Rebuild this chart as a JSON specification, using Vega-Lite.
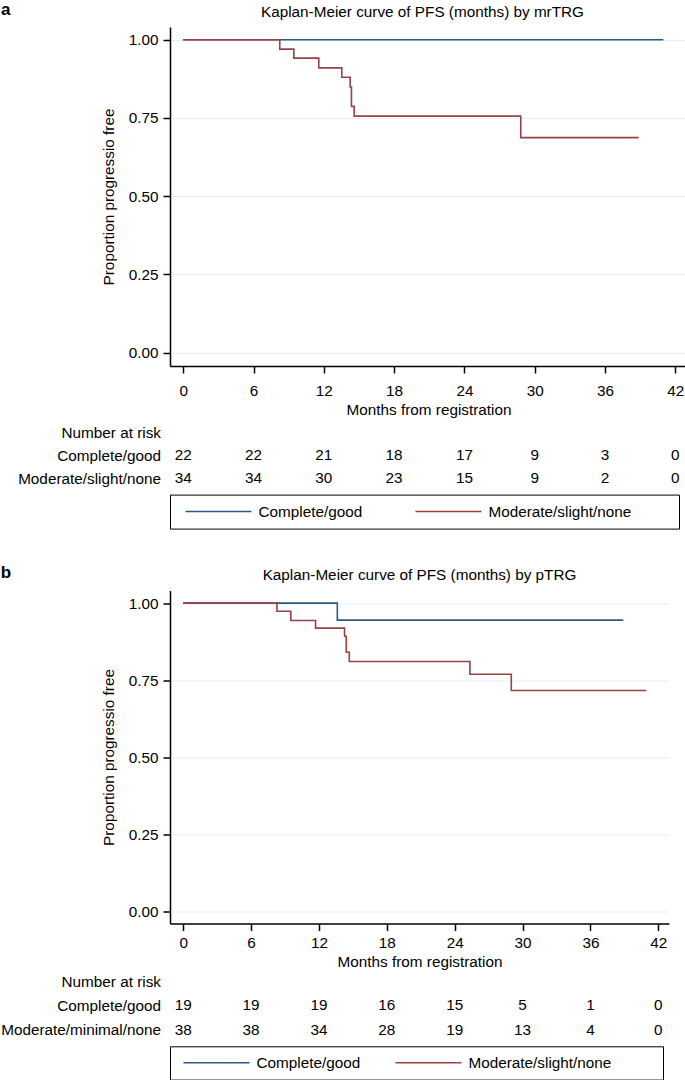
{
  "$schema": "https://vega.github.io/schema/vega-lite/v6.json",
  "background": "white",
  "padding": {"left": 0, "top": 0, "right": 0, "bottom": 0},
  "config": {
    "font": "Liberation Sans",
    "view": {"stroke": null},
    "axis": {
      "labelFontSize": 15.3, "titleFontSize": 15.3, "titleFontWeight": "normal",
      "labelColor": "black", "titleColor": "black", "domainColor": "black", "tickColor": "black",
      "tickSize": 7, "domainWidth": 1.5, "tickWidth": 1.5
    },
    "axisX": {"grid": false, "labelPadding": 8, "titlePadding": 4},
    "axisY": {"grid": true, "gridColor": "#e6eef1", "gridWidth": 1.2, "labelPadding": 5, "titlePadding": 12},
    "title": {"color": "black", "font": "Liberation Sans"},
    "legend": {"labelFont": "Liberation Sans"}
  },
  "datasets": {
    "kmA": [
      {"series": "Complete/good", "month": 0, "surv": 1},
      {"series": "Complete/good", "month": 40.98, "surv": 1},
      {"series": "Moderate/slight/none", "month": 0, "surv": 1},
      {"series": "Moderate/slight/none", "month": 8.24, "surv": 0.970},
      {"series": "Moderate/slight/none", "month": 9.44, "surv": 0.941},
      {"series": "Moderate/slight/none", "month": 11.57, "surv": 0.910},
      {"series": "Moderate/slight/none", "month": 13.53, "surv": 0.880},
      {"series": "Moderate/slight/none", "month": 14.25, "surv": 0.849},
      {"series": "Moderate/slight/none", "month": 14.36, "surv": 0.787},
      {"series": "Moderate/slight/none", "month": 14.59, "surv": 0.756},
      {"series": "Moderate/slight/none", "month": 28.81, "surv": 0.687},
      {"series": "Moderate/slight/none", "month": 38.87, "surv": 0.687}
    ],
    "kmB": [
      {"series": "Complete/good", "month": 0, "surv": 1},
      {"series": "Complete/good", "month": 13.62, "surv": 0.945},
      {"series": "Complete/good", "month": 38.9, "surv": 0.945},
      {"series": "Moderate/slight/none", "month": 0, "surv": 1},
      {"series": "Moderate/slight/none", "month": 8.28, "surv": 0.974},
      {"series": "Moderate/slight/none", "month": 9.51, "surv": 0.944},
      {"series": "Moderate/slight/none", "month": 11.70, "surv": 0.919},
      {"series": "Moderate/slight/none", "month": 14.26, "surv": 0.893},
      {"series": "Moderate/slight/none", "month": 14.41, "surv": 0.841},
      {"series": "Moderate/slight/none", "month": 14.68, "surv": 0.811},
      {"series": "Moderate/slight/none", "month": 25.34, "surv": 0.770},
      {"series": "Moderate/slight/none", "month": 29.0, "surv": 0.717},
      {"series": "Moderate/slight/none", "month": 40.94, "surv": 0.717}
    ],
    "riskA": [
      {"row": "Complete/good", "month": 0, "n": 22},
      {"row": "Complete/good", "month": 6, "n": 22},
      {"row": "Complete/good", "month": 12, "n": 21},
      {"row": "Complete/good", "month": 18, "n": 18},
      {"row": "Complete/good", "month": 24, "n": 17},
      {"row": "Complete/good", "month": 30, "n": 9},
      {"row": "Complete/good", "month": 36, "n": 3},
      {"row": "Complete/good", "month": 42, "n": 0},
      {"row": "Moderate/slight/none", "month": 0, "n": 34},
      {"row": "Moderate/slight/none", "month": 6, "n": 34},
      {"row": "Moderate/slight/none", "month": 12, "n": 30},
      {"row": "Moderate/slight/none", "month": 18, "n": 23},
      {"row": "Moderate/slight/none", "month": 24, "n": 15},
      {"row": "Moderate/slight/none", "month": 30, "n": 9},
      {"row": "Moderate/slight/none", "month": 36, "n": 2},
      {"row": "Moderate/slight/none", "month": 42, "n": 0}
    ],
    "riskB": [
      {"row": "Complete/good", "month": 0, "n": 19},
      {"row": "Complete/good", "month": 6, "n": 19},
      {"row": "Complete/good", "month": 12, "n": 19},
      {"row": "Complete/good", "month": 18, "n": 16},
      {"row": "Complete/good", "month": 24, "n": 15},
      {"row": "Complete/good", "month": 30, "n": 5},
      {"row": "Complete/good", "month": 36, "n": 1},
      {"row": "Complete/good", "month": 42, "n": 0},
      {"row": "Moderate/minimal/none", "month": 0, "n": 38},
      {"row": "Moderate/minimal/none", "month": 6, "n": 38},
      {"row": "Moderate/minimal/none", "month": 12, "n": 34},
      {"row": "Moderate/minimal/none", "month": 18, "n": 28},
      {"row": "Moderate/minimal/none", "month": 24, "n": 19},
      {"row": "Moderate/minimal/none", "month": 30, "n": 13},
      {"row": "Moderate/minimal/none", "month": 36, "n": 4},
      {"row": "Moderate/minimal/none", "month": 42, "n": 0}
    ]
  },
  "spacing": 33.5,
  "resolve": {"scale": {"color": "independent"}, "legend": {"color": "independent"}},
  "vconcat": [
    {
      "title": {"text": "a", "anchor": "start", "frame": "bounds", "fontSize": 17, "fontWeight": "bold", "offset": -14},
      "spacing": 18.3,
      "bounds": "flush",
      "resolve": {"scale": {"color": "independent"}, "legend": {"color": "independent"}},
      "vconcat": [
        {
          "width": 517, "height": 339,
          "title": {"text": "Kaplan-Meier curve of PFS (months) by mrTRG", "fontSize": 15.3, "fontWeight": "normal", "dx": -6, "offset": 7},
          "data": {"name": "kmA"},
          "mark": {"type": "line", "interpolate": "step-after", "strokeWidth": 1.6},
          "encoding": {
            "x": {"field": "month", "type": "quantitative",
                  "scale": {"domain": [-1.13, 43.0], "nice": false, "zero": false},
                  "axis": {"values": [0, 6, 12, 18, 24, 30, 36, 42], "title": "Months from registration", "labelPadding": 10.2, "titlePadding": 4}},
            "y": {"field": "surv", "type": "quantitative",
                  "scale": {"domain": [-0.0425, 1.0406], "nice": false, "zero": false},
                  "axis": {"values": [0, 0.25, 0.5, 0.75, 1], "format": ".2f", "title": "Proportion progressio free"}},
            "color": {"field": "series", "type": "nominal",
                      "scale": {"domain": ["Complete/good", "Moderate/slight/none"], "range": ["#2b5b88", "#9c3f47"]},
                      "legend": null}
          }
        },
        {
          "width": 517, "height": 91.4,
          "data": {"name": "riskA"},
          "mark": {"type": "text", "fontSize": 15.3, "color": "black", "dy": 2.3},
          "encoding": {
            "x": {"field": "month", "type": "quantitative",
                  "scale": {"domain": [-1.13, 43.0], "nice": false, "zero": false}, "axis": null},
            "y": {"field": "row", "type": "nominal",
                  "scale": {"type": "point", "padding": 1, "align": 1, "domain": ["Number at risk", "Complete/good", "Moderate/slight/none"]},
                  "axis": {"title": null, "domain": false, "ticks": false, "grid": false, "labelPadding": 9.5, "labelOffset": 2.3, "labelFontSize": 15.3, "labelLimit": 300, "minExtent": 169}},
            "text": {"field": "n", "type": "quantitative"}
          }
        },
        {
          "width": 509, "height": 34,
          "view": {"stroke": "black", "strokeWidth": 1},
          "data": {"name": "kmA"},
          "mark": {"type": "point", "opacity": 0},
          "encoding": {
            "color": {"field": "series", "type": "nominal",
                      "scale": {"domain": ["Complete/good", "Moderate/slight/none"], "range": ["#2b5b88", "#9c3f47"]},
                      "legend": {"orient": "none", "legendX": 14.5, "legendY": 7, "direction": "horizontal", "columns": 2,
                                 "title": null, "symbolType": "stroke", "symbolSize": 4356, "symbolStrokeWidth": 1.5,
                                 "symbolOpacity": 1, "clipHeight": 20, "labelFontSize": 15.3, "labelOffset": 6,
                                 "columnPadding": 52, "labelColor": "black", "padding": 0, "labelLimit": 300}}
          }
        }
      ]
    },
    {
      "title": {"text": "b", "anchor": "start", "frame": "bounds", "fontSize": 17, "fontWeight": "bold", "offset": -14},
      "spacing": 12.9,
      "bounds": "flush",
      "resolve": {"scale": {"color": "independent"}, "legend": {"color": "independent"}},
      "vconcat": [
        {
          "width": 499, "height": 333,
          "title": {"text": "Kaplan-Meier curve of PFS (months) by pTRG", "fontSize": 15.3, "fontWeight": "normal", "offset": 7},
          "data": {"name": "kmB"},
          "mark": {"type": "line", "interpolate": "step-after", "strokeWidth": 1.6},
          "encoding": {
            "x": {"field": "month", "type": "quantitative",
                  "scale": {"domain": [-1.17, 42.94], "nice": false, "zero": false},
                  "axis": {"values": [0, 6, 12, 18, 24, 30, 36, 42], "title": "Months from registration", "labelPadding": 4.9, "titlePadding": 4}},
            "y": {"field": "surv", "type": "quantitative",
                  "scale": {"domain": [-0.0375, 1.041], "nice": false, "zero": false},
                  "axis": {"values": [0, 0.25, 0.5, 0.75, 1], "format": ".2f", "title": "Proportion progressio free"}},
            "color": {"field": "series", "type": "nominal",
                      "scale": {"domain": ["Complete/good", "Moderate/slight/none"], "range": ["#2b5b88", "#9c3f47"]},
                      "legend": null}
          }
        },
        {
          "width": 499, "height": 96.6,
          "data": {"name": "riskB"},
          "mark": {"type": "text", "fontSize": 15.3, "color": "black"},
          "encoding": {
            "x": {"field": "month", "type": "quantitative",
                  "scale": {"domain": [-1.17, 42.94], "nice": false, "zero": false}, "axis": null},
            "y": {"field": "row", "type": "nominal",
                  "scale": {"type": "point", "padding": 1, "align": 0.928, "domain": ["Number at risk", "Complete/good", "Moderate/minimal/none"]},
                  "axis": {"title": null, "domain": false, "ticks": false, "grid": false, "labelPadding": 9.5, "labelFontSize": 15.3, "labelLimit": 300, "minExtent": 169}},
            "text": {"field": "n", "type": "quantitative"}
          }
        },
        {
          "width": 493, "height": 33.3,
          "view": {"stroke": "black", "strokeWidth": 1},
          "data": {"name": "kmB"},
          "mark": {"type": "point", "opacity": 0},
          "encoding": {
            "color": {"field": "series", "type": "nominal",
                      "scale": {"domain": ["Complete/good", "Moderate/slight/none"], "range": ["#2b5b88", "#9c3f47"]},
                      "legend": {"orient": "none", "legendX": 12.5, "legendY": 6.5, "direction": "horizontal", "columns": 2,
                                 "title": null, "symbolType": "stroke", "symbolSize": 4356, "symbolStrokeWidth": 1.5,
                                 "symbolOpacity": 1, "clipHeight": 20, "labelFontSize": 15.3, "labelOffset": 6,
                                 "columnPadding": 34, "labelColor": "black", "padding": 0, "labelLimit": 300}}
          }
        }
      ]
    }
  ]
}
